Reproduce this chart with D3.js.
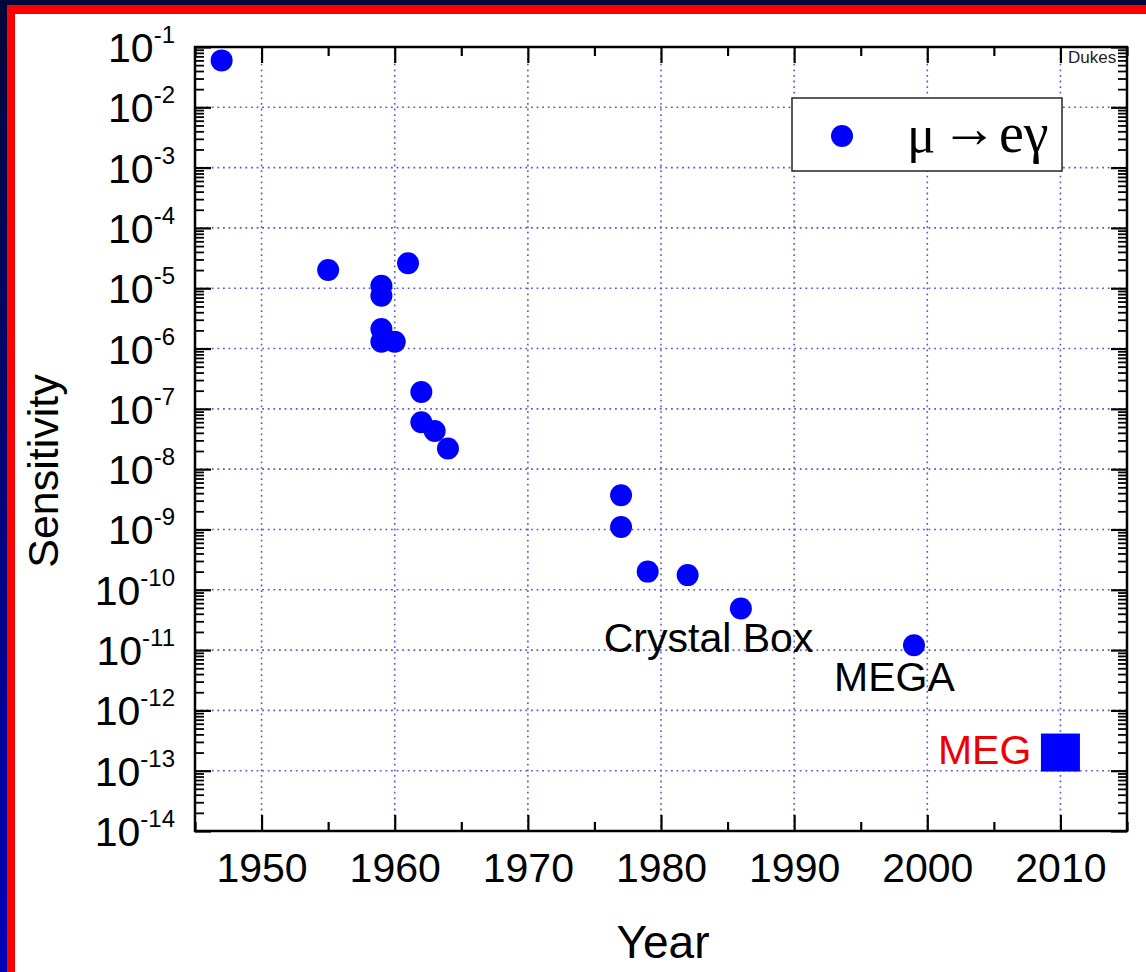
<!DOCTYPE html>
<html>
<head>
<meta charset="utf-8">
<script src="https://cdn.jsdelivr.net/npm/d3@7"></script>
<style>
  html, body { margin: 0; padding: 0; background: #ffffff; }
  svg { display: block; }
</style>
</head>
<body>
<svg id="chart" width="1146" height="972"></svg>
<script>
// Search limits for the decay mu -> e gamma, by year
const years = [1947, 1955, 1959, 1959, 1959, 1959, 1960, 1961, 1962, 1962, 1963, 1964,
               1977, 1977, 1979, 1982, 1986, 1999];
const sensitivity = [6e-2, 2e-5, 1.1e-5, 7.5e-6, 2.1e-6, 1.3e-6, 1.3e-6, 2.6e-5, 1.9e-7, 6e-8, 4.3e-8, 2.2e-8,
                     3.7e-9, 1.1e-9, 2e-10, 1.75e-10, 4.9e-11, 1.2e-11];

// Projected reach of MEG
const megYears = [2010];
const megSensitivity = [2e-13];

// Experiment names placed in data coordinates (left end of the text baseline)
const noteTexts = ["Crystal Box", "MEGA", "MEG"];
const noteYears = [1975.7, 1993.0, 2000.8];
const noteValues = [9.3e-12, 2.1e-12, 1.3e-13];
const noteColors = ["#000000", "#000000", "#ee0000"];

// Axis ticks
const xMajorTicks = [1950, 1960, 1970, 1980, 1990, 2000, 2010];
const xMinorTicks = [1945, 1955, 1965, 1975, 1985, 1995, 2005, 2015];
const yExponents = [-14, -13, -12, -11, -10, -9, -8, -7, -6, -5, -4, -3, -2, -1];

// Legend label pieces: muon, arrow, electron + photon
const legendParts = ["\u03BC", "\u2192", "e\u03B3"];
const xTitle = "Year";
const yTitle = "Sensitivity";
const creditText = "Dukes";

const W = 1146, H = 972;
const plot = { left: 195, top: 47, right: 1127, bottom: 831 };
const sans = "'Liberation Sans', Arial, Helvetica, sans-serif";
const serif = "'Liberation Serif', 'Times New Roman', serif";
const pointBlue = "#0000ff";
const gridColor = "#5a5ad6";

const svg = d3.select("#chart");

// Slide frame: blue backdrop, red border, white sheet
const defs = svg.append("defs");
const bg = defs.append("linearGradient").attr("id", "backdrop")
  .attr("x1", 0).attr("y1", 0).attr("x2", 0).attr("y2", 1);
bg.append("stop").attr("offset", "0%").attr("stop-color", "#020838");
bg.append("stop").attr("offset", "100%").attr("stop-color", "#0000b8");
svg.append("rect").attr("width", W).attr("height", H).attr("fill", "url(#backdrop)");
svg.append("rect").attr("x", 7).attr("y", 5).attr("width", W).attr("height", H).attr("fill", "#ff0000");
svg.append("rect").attr("x", 15).attr("y", 14).attr("width", W).attr("height", H).attr("fill", "#ffffff");

const x = d3.scaleLinear().domain([1945, 2015]).range([plot.left, plot.right]);
const y = d3.scaleLog().domain([1e-14, 1e-1]).range([plot.bottom, plot.top]);

const decades = yExponents.map(e => Math.pow(10, e));
const minorY = [];
yExponents.slice(0, -1).forEach(e => {
  for (let m = 2; m <= 9; m++) minorY.push(m * Math.pow(10, e));
});

// Dotted grid
const grid = svg.append("g").attr("stroke", gridColor).attr("stroke-width", 1.6)
  .attr("stroke-dasharray", "1.8,3.8").attr("fill", "none");
grid.selectAll("line.v").data(xMajorTicks).join("line").attr("class", "v")
  .attr("x1", d => x(d)).attr("x2", d => x(d))
  .attr("y1", plot.top).attr("y2", plot.bottom);
grid.selectAll("line.h").data(decades.slice(1, -1)).join("line").attr("class", "h")
  .attr("x1", plot.left).attr("x2", plot.right)
  .attr("y1", d => y(d)).attr("y2", d => y(d));

// Inward ticks on all four sides
function tickGroup(axisFn, transform, values, size, width) {
  const g = svg.append("g").attr("transform", transform)
    .call(axisFn.tickValues(values).tickSize(-size).tickFormat(""));
  g.select(".domain").remove();
  g.selectAll(".tick line").attr("stroke", "#000").attr("stroke-width", width);
  return g;
}
tickGroup(d3.axisBottom(x), `translate(0,${plot.bottom})`, xMajorTicks, 16, 2.2);
tickGroup(d3.axisBottom(x), `translate(0,${plot.bottom})`, xMinorTicks, 9, 2.2);
tickGroup(d3.axisTop(x), `translate(0,${plot.top})`, xMajorTicks, 16, 2.2);
tickGroup(d3.axisTop(x), `translate(0,${plot.top})`, xMinorTicks, 9, 2.2);
tickGroup(d3.axisLeft(y), `translate(${plot.left},0)`, decades, 16, 2.2);
tickGroup(d3.axisLeft(y), `translate(${plot.left},0)`, minorY, 9, 1.8);
tickGroup(d3.axisRight(y), `translate(${plot.right},0)`, decades, 16, 2.2);
tickGroup(d3.axisRight(y), `translate(${plot.right},0)`, minorY, 9, 1.8);

// Year labels
const xLabels = svg.append("g").attr("transform", `translate(0,${plot.bottom})`)
  .call(d3.axisBottom(x).tickValues(xMajorTicks).tickSize(0).tickPadding(22).tickFormat(d3.format("d")));
xLabels.select(".domain").remove();
xLabels.selectAll("text").attr("font-family", sans).attr("font-size", 41).attr("fill", "#000");

// Power-of-ten labels
const yLabels = svg.append("g");
yExponents.forEach(e => {
  const t = yLabels.append("text")
    .attr("x", 175).attr("y", y(Math.pow(10, e)) + 15)
    .attr("text-anchor", "end").attr("font-family", sans).attr("fill", "#000");
  t.append("tspan").attr("font-size", 41).text("10");
  t.append("tspan").attr("font-size", 24).attr("dy", -19).text(String(e));
});

// Plot frame
svg.append("rect").attr("x", plot.left).attr("y", plot.top)
  .attr("width", plot.right - plot.left).attr("height", plot.bottom - plot.top)
  .attr("fill", "none").attr("stroke", "#000").attr("stroke-width", 2.5);

// Legend
const legend = svg.append("g");
legend.append("rect").attr("x", 792).attr("y", 98).attr("width", 270).attr("height", 73)
  .attr("fill", "#ffffff").attr("stroke", "#333").attr("stroke-width", 1.6);
legend.append("circle").attr("cx", 842).attr("cy", 136).attr("r", 11).attr("fill", pointBlue);
const legendStyle = { family: serif, fill: "#000" };
legend.append("text").attr("x", 907).attr("y", 152).attr("font-family", legendStyle.family)
  .attr("font-size", 53).attr("fill", legendStyle.fill).text(legendParts[0]);
legend.append("text").attr("x", 969).attr("y", 147).attr("text-anchor", "middle")
  .attr("font-family", legendStyle.family).attr("font-size", 56)
  .attr("fill", legendStyle.fill).text(legendParts[1]);
legend.append("text").attr("x", 999).attr("y", 152).attr("font-family", legendStyle.family)
  .attr("font-size", 56).attr("fill", legendStyle.fill).text(legendParts[2]);

// Data points
svg.append("g").selectAll("circle").data(years).join("circle")
  .attr("cx", d => x(d)).attr("cy", (d, i) => y(sensitivity[i]))
  .attr("r", 11).attr("fill", pointBlue);

svg.append("g").selectAll("rect").data(megYears).join("rect")
  .attr("x", d => x(d) - 19.5).attr("y", (d, i) => y(megSensitivity[i]) - 19)
  .attr("width", 39).attr("height", 38).attr("fill", pointBlue);

// Experiment names
svg.append("g").selectAll("text").data(noteTexts).join("text")
  .attr("x", (d, i) => x(noteYears[i])).attr("y", (d, i) => y(noteValues[i]))
  .attr("font-family", sans).attr("font-size", 41)
  .attr("fill", (d, i) => noteColors[i]).text(d => d);

// Credit in the corner
svg.append("text").attr("x", 1068).attr("y", 63)
  .attr("font-family", sans).attr("font-size", 17).attr("fill", "#222").text(creditText);

// Axis titles
svg.append("text").attr("x", (plot.left + plot.right) / 2 + 2).attr("y", 958)
  .attr("text-anchor", "middle").attr("font-family", sans).attr("font-size", 46)
  .attr("fill", "#000").text(xTitle);
svg.append("text").attr("transform", "translate(58,471) rotate(-90)")
  .attr("text-anchor", "middle").attr("font-family", sans).attr("font-size", 43)
  .attr("fill", "#000").text(yTitle);
</script>
</body>
</html>
